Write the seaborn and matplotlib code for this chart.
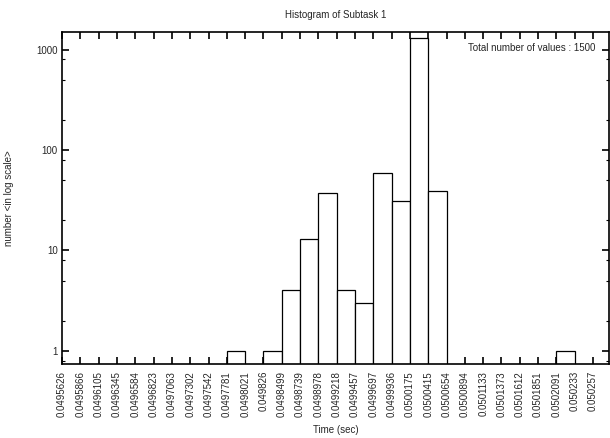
import matplotlib
matplotlib.use("Agg")
import matplotlib.pyplot as plt
import seaborn as sns
import numpy as np
import pandas as pd

# ---- data ----
tick_labels = ["0.0495626", "0.0495866", "0.0496105", "0.0496345", "0.0496584",
               "0.0496823", "0.0497063", "0.0497302", "0.0497542", "0.0497781",
               "0.0498021", "0.049826", "0.0498499", "0.0498739", "0.0498978",
               "0.0499218", "0.0499457", "0.0499697", "0.0499936", "0.0500175",
               "0.0500415", "0.0500654", "0.0500894", "0.0501133", "0.0501373",
               "0.0501612", "0.0501851", "0.0502091", "0.050233", "0.050257"]
counts = [0, 0, 0, 0, 0, 0, 0, 0, 0, 1,
          0, 1, 4, 13, 37, 4, 3, 59, 31, 1307,
          39, 0, 0, 0, 0, 0, 0, 1, 0]
total_values = 1500
title = "Histogram of Subtask 1"
xlabel = "Time (sec)"
ylabel = "number <in log scale>"
y_major = [1, 10, 100, 1000]
y_minor = [0.8, 2, 5, 8, 20, 50, 80, 200, 500, 800]

edges = [float(s) for s in tick_labels]
df = pd.DataFrame({"left": edges[:-1], "count": counts})
df = df[df["count"] > 0].reset_index(drop=True)

sns.set_style("ticks")
plt.rcParams["font.family"] = ["Liberation Sans", "DejaVu Sans"]
plt.rcParams["font.size"] = 7

fig = plt.figure(figsize=(6.1, 4.38), dpi=100)
ax = fig.add_axes([62 / 610, 1 - 364 / 438, 547 / 610, 332 / 438])

sns.histplot(data=df, x="left", weights="count", bins=edges, ax=ax,
             color="white", edgecolor="black", linewidth=0.9, alpha=1.0)
ax.set_yscale("log")

w = edges[1] - edges[0]
ax.set_xlim(edges[0], edges[-1] + 0.87 * w)
ax.set_ylim(0.74, 1500)

ax.set_xticks(edges)
ax.set_xticklabels(tick_labels, rotation=90, fontsize=7)
ax.set_yticks(y_major)
ax.set_yticklabels([str(v) for v in y_major], fontsize=7)
ax.set_yticks(y_minor, minor=True)
ax.yaxis.set_minor_formatter(matplotlib.ticker.NullFormatter())
ax.xaxis.set_minor_locator(matplotlib.ticker.NullLocator())

ax.tick_params(axis="both", which="major", direction="in", length=5, width=1.2,
               top=True, right=True, color="black")
ax.tick_params(axis="y", which="minor", direction="in", length=2.5, width=0.8,
               right=True, color="black")
ax.tick_params(axis="x", which="major", pad=5)
ax.tick_params(axis="y", which="major", pad=3)

for s in ax.spines.values():
    s.set_visible(True)
    s.set_linewidth(1.2)
    s.set_color("black")

ax.set_title(title, fontsize=7, pad=10)
ax.set_xlabel(xlabel, fontsize=7, labelpad=6)
ax.set_ylabel(ylabel, fontsize=7)
ax.yaxis.set_label_coords(-0.088, 0.5)
ax.text(0.976, 0.952, f"Total number of values : {total_values}",
        transform=ax.transAxes, ha="right", va="center", fontsize=7)

fig.savefig("out.png", dpi=100)
